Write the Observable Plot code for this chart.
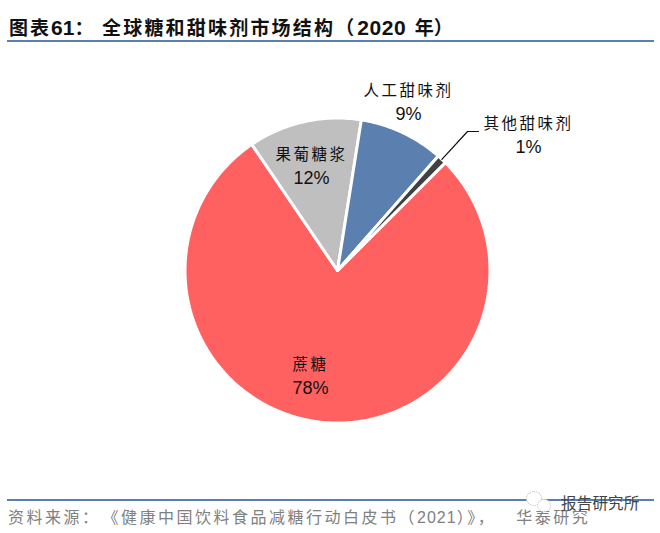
<!DOCTYPE html>
<html><head><meta charset="utf-8">
<script src="https://cdn.jsdelivr.net/npm/d3@7"></script>
<script src="https://cdn.jsdelivr.net/npm/@observablehq/plot@0.6"></script>
<style>
html,body{margin:0;padding:0;background:#fff;width:660px;height:533px;overflow:hidden}
#root{position:relative;width:660px;height:533px}
.t{position:absolute;white-space:nowrap}
.rule{position:absolute;left:7px;width:647px;height:2px;background:#5b7fae}
.wm{position:absolute;border-radius:50%;background:#fff;border:1px dotted #bbb}
svg{position:absolute;left:0;top:0}
g[font-size="15.5"] text{letter-spacing:2.5px}
</style></head><body><div id="root">
<div class="t" id="title" style="left:9px;top:14px;font:700 19px/26px 'Noto Sans CJK SC';color:#111"><span style="letter-spacing:2px">图表</span><span style="font:700 21px/26px 'Liberation Sans'">61</span><span>：&nbsp;&nbsp;</span><span style="letter-spacing:2.2px">全球糖和甜味剂市场结构</span><span>（</span><span style="font:700 21px/26px 'Liberation Sans';letter-spacing:.6px;margin-left:3px">2020 </span><span style="margin-left:2px">年）</span></div>
<div class="rule" style="top:40px"></div>
<div class="rule" style="top:499px"></div>
<div class="t" id="src" style="left:8px;top:505px;font:400 16px/22px 'Noto Sans CJK SC';letter-spacing:2.5px;color:#808080">资料来源：<span style="margin-left:10px">《</span>健康中国饮料食品减糖行动白皮书（<span style="font-family:'Liberation Sans';letter-spacing:1px">2021</span>）》，<span style="margin-left:20px">华泰研究</span></div>
<div class="wm" style="left:526px;top:491px;width:14px;height:13px"></div>
<div class="wm" style="left:537px;top:499px;width:12px;height:11px"></div>
<div class="t" style="left:561px;top:491px;font:400 15.5px/22px 'Noto Sans CJK SC';color:#444;letter-spacing:.2px">报告研究所</div>
</div>
<script>
const categories = ["蔗糖","果葡糖浆","人工甜味剂","其他甜味剂"];
const shares = [78,12,9,1];
const percentLabels = ["78%","12%","9%","1%"];
const colors = ["#ff6161","#bfbfbf","#5b7fae","#404040"];

const startDeg = 45, R = 152.5;
const rad = d => d*Math.PI/180;
const pie = d3.pie().sort(null).startAngle(rad(startDeg)).endAngle(rad(startDeg+360))(shares);
const polar = (a,r) => ({x: r*Math.sin(a), y: r*Math.cos(a)});

const outline = pie.flatMap((s,i) => {
  const n = Math.max(2, Math.ceil((s.endAngle-s.startAngle)/rad(1)));
  const arc = d3.range(n+1).map(k => polar(s.startAngle+(s.endAngle-s.startAngle)*k/n, R));
  return [{x:0,y:0},...arc,{x:0,y:0}].map(p => ({...p, name:categories[i]}));
});

const labelOffset = {"蔗糖":[-27,-95],"果葡糖浆":[-26,115],"人工甜味剂":[71,179],"其他甜味剂":[191,146]};
const labels = categories.map((c,i)=>({name:c,pct:percentLabels[i],x:labelOffset[c][0],y:labelOffset[c][1]}));
const leaderStart = polar((pie[3].startAngle+pie[3].endAngle)/2, R);
const leader = [leaderStart,{x:130,y:139},{x:141,y:139}];

const plot = Plot.plot({
  width:660,height:533,margin:0,
  x:{domain:[-337,323],axis:null},
  y:{domain:[-263,270],axis:null},
  color:{domain:categories,range:colors},
  style:{background:"transparent"},
  marks:[
    Plot.line(outline,{x:"x",y:"y",z:"name",fill:"name",stroke:"#fff",strokeWidth:3,strokeLinejoin:"miter",curve:"linear"}),
    Plot.line(leader,{x:"x",y:"y",stroke:"#111",strokeWidth:1.2,curve:"linear"}),
    Plot.text(labels,{x:"x",y:"y",text:"name",fontSize:15.5,fontFamily:"'Noto Sans CJK SC'",fill:"#111"}),
    Plot.text(labels,{x:"x",y:"y",text:"pct",dy:23,fontSize:18,fontFamily:"'Liberation Sans'",fill:"#111"})
  ]
});
document.getElementById("root").prepend(plot);
</script></body></html>
